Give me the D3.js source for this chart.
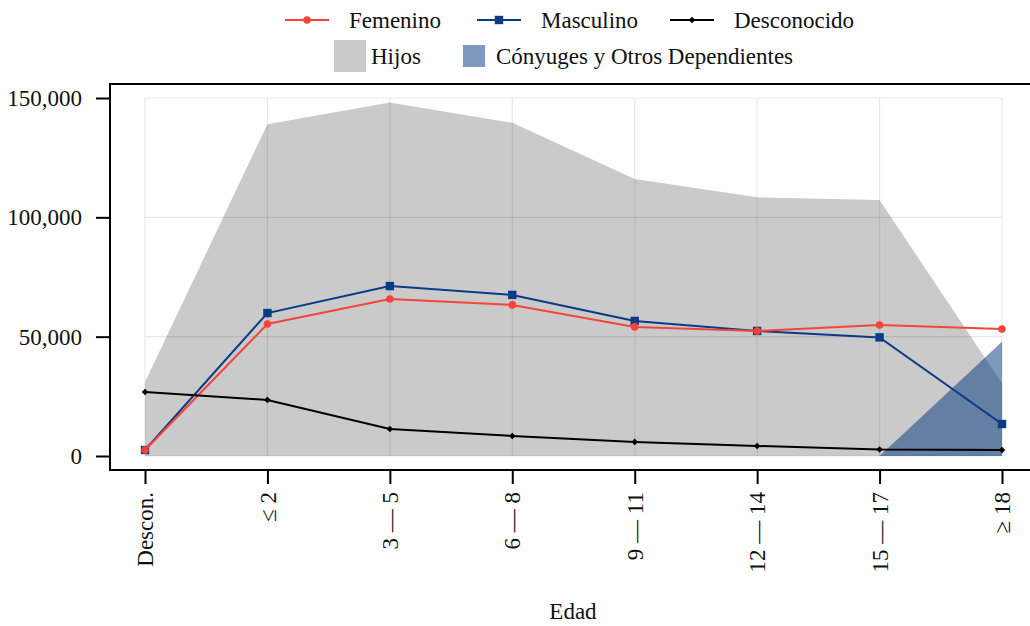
<!DOCTYPE html>
<html>
<head>
<meta charset="utf-8">
<script src="https://cdn.jsdelivr.net/npm/d3@7/dist/d3.min.js"></script>
<style>
  html, body { margin: 0; padding: 0; background: #fff; }
  svg { display: block; }
  svg text { font-family: "Liberation Serif", "LiberationSerif", "Tinos", "Times New Roman", "Nimbus Roman", "DejaVu Serif", serif !important; fill: #111; }
</style>
</head>
<body>
<svg id="chart" width="1030" height="626"></svg>
<script>
// ---- data ----
const categories = ["Descon.", "≤ 2", "3 — 5", "6 — 8", "9 — 11", "12 — 14", "15 — 17", "≥ 18"];
const hijos = [31000, 139000, 148100, 139600, 116100, 108400, 107300, 30500];
const conyuges = [0, 0, 0, 0, 0, 0, 0, 47900];
const femenino = [2500, 55300, 65800, 63300, 54100, 52400, 54900, 53200];
const masculino = [2500, 59900, 71200, 67500, 56600, 52400, 49700, 13400];
const desconocido = [26800, 23500, 11300, 8400, 5900, 4200, 2700, 2500];
const yTicks = [0, 50000, 100000, 150000];
const xTitle = "Edad";

const colors = {
  red: "#f5443a",
  blue: "#0b3a86",
  black: "#000000",
  gray: "#cacaca",
  conyFill: "rgb(0,49,125)"
};

const svg = d3.select("#chart");
const fs = 23;

const x = d3.scalePoint().domain(categories).range([145, 1002]);
const y = d3.scaleLinear().domain([0, 150000]).range([456, 98]);

// areas
const area = d3.area()
  .x((d, i) => x(categories[i]))
  .y0(y(0))
  .y1(d => y(d));

svg.append("path").datum(hijos).attr("d", area).attr("fill", colors.gray);
svg.append("path").datum(conyuges).attr("d", area)
  .attr("fill", colors.conyFill).attr("fill-opacity", 0.5);

// grid (over areas, translucent)
const grid = svg.append("g").attr("stroke", "rgba(0,0,0,0.09)").attr("stroke-width", 1.2);
grid.selectAll("line.h").data(yTicks).join("line")
  .attr("x1", 145).attr("x2", 1002)
  .attr("y1", d => y(d)).attr("y2", d => y(d));
grid.selectAll("line.v").data(categories).join("line")
  .attr("y1", y(0)).attr("y2", y(150000))
  .attr("x1", d => x(d)).attr("x2", d => x(d));

// lines
function drawSeries(vals, color, marker) {
  const line = d3.line().x((d, i) => x(categories[i])).y(d => y(d));
  svg.append("path").datum(vals).attr("d", line)
    .attr("fill", "none").attr("stroke", color).attr("stroke-width", 2);
  const g = svg.append("g");
  vals.forEach((v, i) => {
    drawMarker(g, marker, x(categories[i]), y(v), color);
  });
}
function drawMarker(g, marker, cx, cy, color) {
  if (marker === "circle") {
    g.append("circle").attr("cx", cx).attr("cy", cy).attr("r", 3.8).attr("fill", color);
  } else if (marker === "square") {
    g.append("rect").attr("x", cx - 4.2).attr("y", cy - 4.2).attr("width", 8.4).attr("height", 8.4).attr("fill", color);
  } else {
    g.append("path").attr("d", `M${cx},${cy-3.3}L${cx+3.3},${cy}L${cx},${cy+3.3}L${cx-3.3},${cy}Z`).attr("fill", color);
  }
}
drawSeries(masculino, colors.blue, "square");
drawSeries(femenino, colors.red, "circle");
drawSeries(desconocido, colors.black, "diamond");

// frame
svg.append("rect").attr("x", 110).attr("y", 84).attr("width", 940).attr("height", 386)
  .attr("fill", "none").attr("stroke", "#000").attr("stroke-width", 2);

// y axis
const yAxis = svg.append("g").attr("transform", "translate(110,0)")
  .call(d3.axisLeft(y).tickValues(yTicks).tickFormat(d3.format(",")).tickSize(14).tickPadding(14));
yAxis.select(".domain").remove();
yAxis.selectAll(".tick line").attr("stroke", "#000").attr("stroke-width", 2);
yAxis.selectAll(".tick text").attr("font-size", fs).attr("font-family", null).attr("fill", "#111");

// x axis
const xAxis = svg.append("g").attr("transform", "translate(0,470)")
  .call(d3.axisBottom(x).tickSize(14));
xAxis.select(".domain").remove();
xAxis.attr("font-family", null);
yAxis.attr("font-family", null);
xAxis.selectAll(".tick line").attr("stroke", "#000").attr("stroke-width", 2);
xAxis.selectAll(".tick text")
  .attr("font-size", fs).attr("fill", "#111")
  .attr("transform", "rotate(-90)")
  .attr("x", -22).attr("y", 0).attr("dy", "0.33em")
  .style("text-anchor", "end");

// axis title
svg.append("text").attr("x", 573).attr("y", 619).attr("text-anchor", "middle")
  .attr("font-size", fs).text(xTitle);

// legend
const legendLines = [
  { name: "Femenino", color: colors.red, marker: "circle", x0: 285 },
  { name: "Masculino", color: colors.blue, marker: "square", x0: 477 },
  { name: "Desconocido", color: colors.black, marker: "diamond", x0: 670 }
];
const lg = svg.append("g");
legendLines.forEach(d => {
  lg.append("line").attr("x1", d.x0).attr("x2", d.x0 + 44).attr("y1", 20).attr("y2", 20)
    .attr("stroke", d.color).attr("stroke-width", 2);
  drawMarker(lg, d.marker, d.x0 + 22, 20, d.color);
  lg.append("text").attr("x", d.x0 + 64).attr("y", 20).attr("dy", "0.35em")
    .attr("font-size", fs).text(d.name);
});
const legendAreas = [
  { name: "Hijos", fill: colors.gray, op: 1, x: 334, y: 40, s: 32, tx: 371 },
  { name: "Cónyuges y Otros Dependientes", fill: colors.conyFill, op: 0.5, x: 463, y: 45, s: 22, tx: 496 }
];
legendAreas.forEach(d => {
  lg.append("rect").attr("x", d.x).attr("y", d.y).attr("width", d.s).attr("height", d.s)
    .attr("fill", d.fill).attr("fill-opacity", d.op);
  lg.append("text").attr("x", d.tx).attr("y", 56).attr("dy", "0.35em")
    .attr("font-size", fs).text(d.name);
});
</script>
</body>
</html>
